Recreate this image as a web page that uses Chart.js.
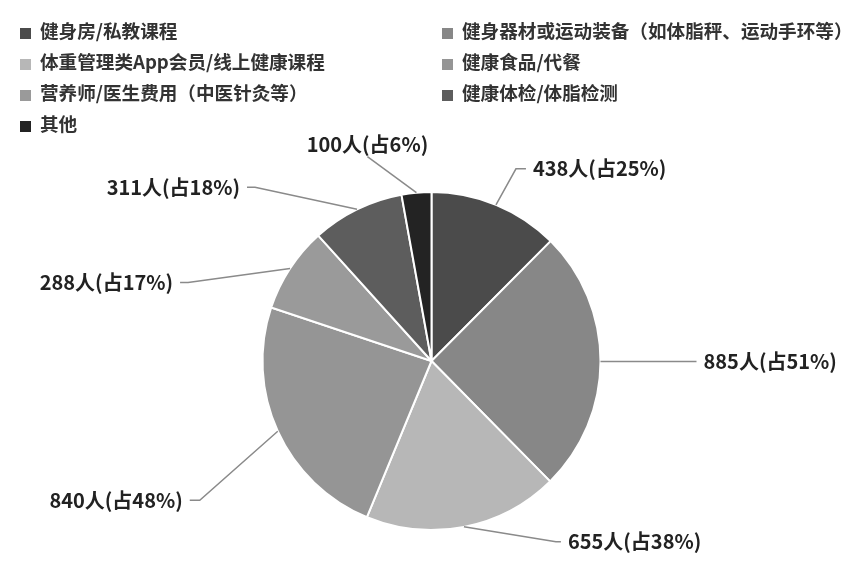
<!DOCTYPE html>
<html>
<head>
<meta charset="utf-8">
<script src="https://cdn.jsdelivr.net/npm/chart.js@4"></script>
<style>
  html, body { margin: 0; padding: 0; background: #fff; }
  #wrap { position: relative; width: 858px; height: 566px; }
  #legend {
    position: absolute; left: 20px; top: 14px;
    display: grid; grid-template-columns: 422px auto;
    font-family: "Noto Sans CJK SC", sans-serif; font-size: 18.6px; font-weight: 600;
    color: #333;
  }
  #legend div { height: 31px; line-height: 31px; white-space: nowrap; }
  #legend span.box { display: inline-block; width: 11px; height: 11px; margin-right: 9px; vertical-align: -1px; }
</style>
</head>
<body>
<div id="wrap">
  <canvas id="pie" width="858" height="566"></canvas>
  <div id="legend"></div>
</div>
<script>
// 数据
const categories = [
  "健身房/私教课程",
  "健身器材或运动装备（如体脂秤、运动手环等）",
  "体重管理类App会员/线上健康课程",
  "健康食品/代餐",
  "营养师/医生费用（中医针灸等）",
  "健康体检/体脂检测",
  "其他"
];
const people = [438, 885, 655, 840, 288, 311, 100];
const shares = [25, 51, 38, 48, 17, 18, 6];
const colors = ["#4b4b4b", "#878787", "#b7b7b7", "#959595", "#9a9a9a", "#5d5d5d", "#232323"];

// 引导线：拐点相对扇区外缘中点的偏移，水平段长度
const leader = [
  { dx: 20, dy: -36, h: 10 },
  { dx: 90, dy: 0, h: 6 },
  { dx: 92, dy: 15, h: 5 },
  { dx: -78, dy: 69, h: 10 },
  { dx: -102, dy: 14, h: 8 },
  { dx: -102, dy: -22, h: 8 },
  { dx: -49, dy: -36, h: 0, above: true }
];

const outLabels = {
  id: "outLabels",
  afterDatasetsDraw(chart) {
    const ctx = chart.ctx;
    const meta = chart.getDatasetMeta(0);
    ctx.save();
    ctx.font = "bold 20px 'Noto Sans CJK SC', sans-serif";
    ctx.fillStyle = "#222";
    ctx.strokeStyle = "#8a8a8a";
    ctx.lineWidth = 1.5;
    meta.data.forEach((arc, i) => {
      const p = arc.getProps(["x", "y", "startAngle", "endAngle", "outerRadius"], true);
      const mid = (p.startAngle + p.endAngle) / 2;
      const sx = p.x + Math.cos(mid) * p.outerRadius;
      const sy = p.y + Math.sin(mid) * p.outerRadius;
      const l = leader[i];
      const ex = sx + l.dx, ey = sy + l.dy;
      const right = l.dx >= 0;
      const hx = ex + (right ? l.h : -l.h);
      ctx.beginPath();
      ctx.moveTo(sx, sy);
      ctx.lineTo(ex, ey);
      ctx.lineTo(hx, ey);
      ctx.stroke();
      const text = people[i] + "人(占" + shares[i] + "%)";
      if (l.above) {
        ctx.textAlign = "center";
        ctx.textBaseline = "bottom";
        ctx.fillText(text, hx, ey - 2);
      } else {
        ctx.textBaseline = "middle";
        ctx.textAlign = right ? "left" : "right";
        ctx.fillText(text, hx + (right ? 7 : -7), ey);
      }
    });
    ctx.restore();
  }
};

const chart = new Chart(document.getElementById("pie"), {
  type: "pie",
  data: {
    labels: categories,
    datasets: [{
      data: people,
      backgroundColor: colors,
      borderColor: "#fff",
      borderWidth: 2,
      hoverOffset: 0
    }]
  },
  options: {
    responsive: false,
    animation: false,
    layout: { padding: { top: 191, bottom: 35, left: 200, right: 195 } },
    plugins: {
      legend: { display: false },
      tooltip: { enabled: false }
    }
  },
  plugins: [outLabels]
});

// 图例
const legendEl = document.getElementById("legend");
chart.data.labels.forEach((name, i) => {
  const item = document.createElement("div");
  const box = document.createElement("span");
  box.className = "box";
  box.style.background = colors[i];
  item.appendChild(box);
  item.appendChild(document.createTextNode(name));
  legendEl.appendChild(item);
});
</script>
</body>
</html>
